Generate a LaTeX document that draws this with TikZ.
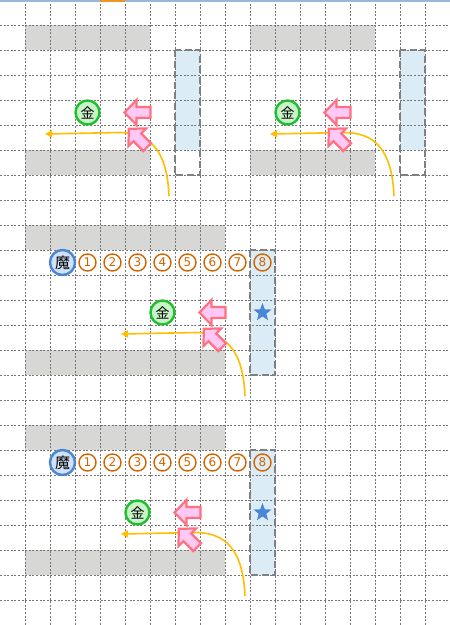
\documentclass[tikz,border=0pt]{standalone}
\usepackage{fontspec}
\newfontfamily\cjk{Noto Sans CJK JP}
\newfontfamily\numfont{DejaVu Sans}
\usetikzlibrary{arrows.meta,shapes.geometric}
\definecolor{gridc}{RGB}{118,118,118}
\definecolor{grayfill}{RGB}{215,216,214}
\definecolor{bluefill}{RGB}{220,236,246}
\definecolor{dashc}{RGB}{128,128,128}
\definecolor{pinkfill}{RGB}{255,200,245}
\definecolor{pinkline}{RGB}{255,112,128}
\definecolor{goldc}{RGB}{255,190,0}
\definecolor{greenline}{RGB}{34,190,50}
\definecolor{greenfill}{RGB}{200,245,200}
\definecolor{blueline}{RGB}{74,134,214}
\definecolor{bluecfill}{RGB}{208,225,248}
\definecolor{orangec}{RGB}{210,100,0}
\definecolor{topblue}{RGB}{150,185,215}
\definecolor{toporange}{RGB}{240,150,40}
\begin{document}
\begin{tikzpicture}[x=1pt,y=-1pt,
  gridline/.style={draw=gridc,line width=1pt,dash pattern=on 2pt off 1.6pt},
  grayrow/.style={fill=grayfill},
  zone/.style={draw=dashc,line width=2.4pt,dash pattern=on 7pt off 3.5pt},
  zonefill/.style={fill=bluefill},
  arrowline/.style={draw=pinkline,fill=pinkfill,line width=2.2pt,line join=miter},
  pinkarrow/.pic={\path[arrowline] (-13,0) -- (-1,-12.5) -- (-1,-5.5) -- (13,-5.5) -- (13,5.5) -- (-1,5.5) -- (-1,12.5) -- cycle;},
  goldpath/.style={draw=goldc,line width=1.6pt,-{Triangle[length=7pt,width=7pt]}},
  kin/.style={circle,draw=greenline,fill=greenfill,line width=2.4pt,minimum size=24pt,inner sep=0pt,font=\cjk\fontsize{14}{14}\selectfont},
  ma/.style={circle,draw=blueline,fill=bluecfill,line width=2.4pt,minimum size=25pt,inner sep=0pt,font=\cjk\fontsize{15}{15}\selectfont},
  num/.style={circle,draw=orangec,line width=1.4pt,minimum size=17pt,inner sep=0pt,text=orangec,font=\numfont\fontsize{12}{12}\selectfont},
  starmark/.style={star,star points=5,star point ratio=2.4,fill=blueline,minimum size=19pt,inner sep=0pt}
]
\useasboundingbox (0,0) rectangle (450,625);
\fill[white] (0,0) rectangle (450,625);
% gray rows
\fill[grayrow] (25,25) rectangle (150,50);
\fill[grayrow] (25,150) rectangle (150,175);
\fill[grayrow] (250,25) rectangle (375,50);
\fill[grayrow] (250,150) rectangle (375,175);
\fill[grayrow] (25,225) rectangle (225,250);
\fill[grayrow] (25,350) rectangle (225,375);
\fill[grayrow] (25,425) rectangle (225,450);
\fill[grayrow] (25,550) rectangle (225,575);
% zone fills
\fill[zonefill] (175,50) rectangle (200,150);
\fill[zonefill] (400,50) rectangle (425,150);
\fill[zonefill] (250,250) rectangle (275,375);
\fill[zonefill] (250,450) rectangle (275,575);
% grid
\foreach \x in {25,50,...,450} \draw[gridline] (\x,0) -- (\x,625);
\foreach \y in {25,50,...,600} \draw[gridline] (0,\y) -- (450,\y);
% zone borders
\draw[zone] (175,50) rectangle (200,175);
\draw[zone] (400,50) rectangle (425,175);
\draw[zone] (250,250) rectangle (275,375);
\draw[zone] (250,450) rectangle (275,575);
% top line
\draw[topblue,line width=1.5pt] (0,0.75) -- (450,0.75);
\draw[toporange,line width=2pt] (100,1) -- (125,1);
% gold paths
\coordinate (g1s) at (169,196); \coordinate (g1e) at (45,134);
\draw[goldpath] (g1s) .. controls (167,150) and (150,133) .. (120,132.5) -- (g1e);
\coordinate (g2s) at (394,196); \coordinate (g2e) at (270,134);
\draw[goldpath] (g2s) .. controls (392,150) and (375,133) .. (345,132.5) -- (g2e);
\coordinate (g3s) at (245,396); \coordinate (g3e) at (121,334);
\draw[goldpath] (g3s) .. controls (243,350) and (226,333) .. (196,332.5) -- (g3e);
\coordinate (g4s) at (245,596); \coordinate (g4e) at (121,534);
\draw[goldpath] (g4s) .. controls (243,550) and (226,533) .. (196,532.5) -- (g4e);
% pink arrows
\pic at (137.5,112.5) {pinkarrow};
\pic[rotate=-45] at (138,138) {pinkarrow};
\pic at (337.5,112.5) {pinkarrow};
\pic[rotate=-45] at (338,138) {pinkarrow};
\pic at (212.5,312.5) {pinkarrow};
\pic[rotate=-45] at (213,338) {pinkarrow};
\pic at (187.5,512.5) {pinkarrow};
\pic[rotate=-45] at (188,538) {pinkarrow};
% pieces
\node[kin] (k1) at (87.5,112.5) {金};
\node[kin] (k2) at (287.5,112.5) {金};
\node[kin] (k3) at (162.5,312.5) {金};
\node[kin] (k4) at (137.5,512.5) {金};
\node[ma] (m3) at (62.5,262.5) {魔};
\node[ma] (m4) at (62.5,462.5) {魔};
\foreach \i in {1,...,8} {
  \node[num] (a\i) at ({62.5+25*\i},262.5) {\i};
  \node[num] (b\i) at ({62.5+25*\i},462.5) {\i};
}
\node[starmark] (s3) at (262.5,312.5) {};
\node[starmark] (s4) at (262.5,512.5) {};
\end{tikzpicture}
\end{document}
